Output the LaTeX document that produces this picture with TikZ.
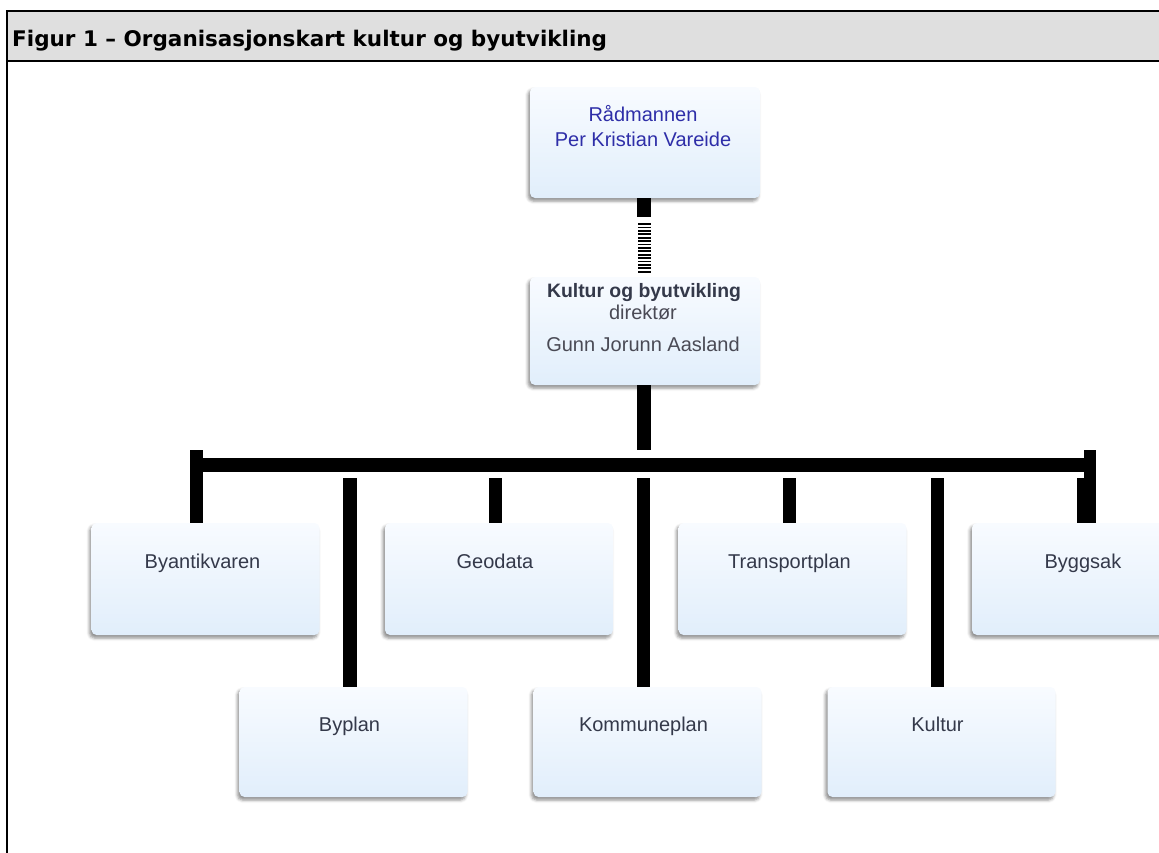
\documentclass[tikz,border=0pt]{standalone}
\usepackage{fontspec}
\setmainfont{Liberation Sans}
\newfontfamily\headfont{DejaVu Sans}
\usetikzlibrary{shadows.blur,calc}
\definecolor{hdrgray}{HTML}{DFDFDF}
\definecolor{boxtop}{HTML}{F8FBFF}
\definecolor{boxbot}{HTML}{E1EEFB}
\definecolor{txtdark}{HTML}{34394A}
\definecolor{txtblue}{HTML}{2E2EA8}
\definecolor{txtgray}{HTML}{4A4A55}
\begin{document}
\begin{tikzpicture}[x=1pt,y=-1pt,
  orgbox/.style={draw=none, rounded corners=5pt, top color=boxtop, bottom color=boxbot,
    inner sep=0pt, minimum width=228pt,
    blur shadow={shadow xshift=-2pt, shadow yshift=-3pt, shadow blur radius=3pt, shadow opacity=45}},
  rowone/.style={orgbox, minimum height=112pt},
  rowtwo/.style={orgbox, minimum height=110pt},
  lbl/.style={anchor=base, inner sep=0pt, font=\fontsize{20}{24}\selectfont, text=txtdark},
  conn/.style={line width=13pt, black},
  frameline/.style={line width=2.3pt, black}]
\useasboundingbox (0,0) rectangle (1159,852);

% frame and header
\fill[hdrgray] (7,11) rectangle (1175,61);
\draw[frameline] (5.85,11) -- (1175,11);
\draw[frameline] (5.85,61) -- (1175,61);
\draw[frameline] (7,11) -- (7,860);
\node[anchor=base west, inner sep=0pt, font=\headfont\bfseries\fontsize{21.5}{26}\selectfont] (title) at (12,46)
  {Figur 1 – Organisasjonskart kultur og byutvikling};

% boxes
\node[orgbox, minimum width=230pt, minimum height=111pt] (rad) at (645,142.5) {};
\node[orgbox, minimum width=230pt, minimum height=108pt] (kub) at (645,331) {};
\node[rowone] (byant) at (205.5,579) {};
\node[rowone] (geo) at (499,579) {};
\node[rowone] (trans) at (792.5,579) {};
\node[rowone] (byggsak) at (1086,579) {};
\node[rowtwo] (byplan) at (353.5,742) {};
\node[rowtwo] (kplan) at (647.5,742) {};
\node[rowtwo] (kultur) at (941.5,742) {};

% texts
\node[lbl, text=txtblue] (radA) at ($(rad.north)+(-2,35)$) {Rådmannen};
\node[lbl, text=txtblue] (radB) at ($(rad.north)+(-2,60)$) {Per Kristian Vareide};
\node[lbl, font=\bfseries\fontsize{19.4}{24}\selectfont] (kubA) at ($(kub.north)+(-1,21)$) {Kultur og byutvikling};
\node[lbl, text=txtgray] (kubB) at ($(kub.north)+(-2,43)$) {direktør};
\node[lbl, text=txtgray] (kubC) at ($(kub.north)+(-2,75)$) {Gunn Jorunn Aasland};
\node[lbl] (byantT) at ($(byant.north)+(-3,46)$) {Byantikvaren};
\node[lbl] (geoT) at ($(geo.north)+(-4,46)$) {Geodata};
\node[lbl] (transT) at ($(trans.north)+(-3,46)$) {Transportplan};
\node[lbl] (byggsakT) at ($(byggsak.north)+(-3,46)$) {Byggsak};
\node[lbl] (byplanT) at ($(byplan.north)+(-4,45)$) {Byplan};
\node[lbl] (kplanT) at ($(kplan.north)+(-4,45)$) {Kommuneplan};
\node[lbl] (kulturT) at ($(kultur.north)+(-4,45)$) {Kultur};

% connector Rådmannen -> Kultur og byutvikling
\coordinate (radS) at ($(rad.south)+(-1,0)$);
\coordinate (radM1) at ($(radS)+(0,19)$);
\coordinate (radM2) at ($(radS)+(0,25)$);
\coordinate (kubN) at ($(kub.north)+(-1,-4)$);
\draw[conn, line width=14pt] (radS) -- (radM1);
\draw[conn, dash pattern=on 1.7pt off 1.7pt] (radM2) -- (kubN);

% connector Kultur og byutvikling -> bar
\coordinate (pTop) at ($(kub.south)+(-1,0)$);
\coordinate (pBot) at (644,450);
\draw[conn, line width=14pt] (pTop) -- (pBot);

% bar with end caps
\coordinate (capL) at (196.5,450);
\coordinate (capR) at (1090,450);
\draw[conn] (capL) -- (capL |- byant.north);
\draw[conn, line width=12pt] (capR) -- (capR |- byggsak.north);
\draw[line width=14pt] ($(capL)+(6,15)$) -- ($(capR)+(-6,15)$);

% child connectors
\coordinate (cByplan) at (350,478);
\coordinate (cGeo) at (495.5,478);
\coordinate (cKplan) at (643.5,478);
\coordinate (cTrans) at (789.5,478);
\coordinate (cKultur) at (937.5,478);
\coordinate (cByggsak) at (1081.5,478);
\draw[conn, line width=14pt] (cByplan) -- (cByplan |- byplan.north);
\draw[conn] (cGeo) -- (cGeo |- geo.north);
\draw[conn] (cKplan) -- (cKplan |- kplan.north);
\draw[conn] (cTrans) -- (cTrans |- trans.north);
\draw[conn] (cKultur) -- (cKultur |- kultur.north);
\draw[conn, line width=9pt] (cByggsak) -- (cByggsak |- byggsak.north);
\end{tikzpicture}
\end{document}
